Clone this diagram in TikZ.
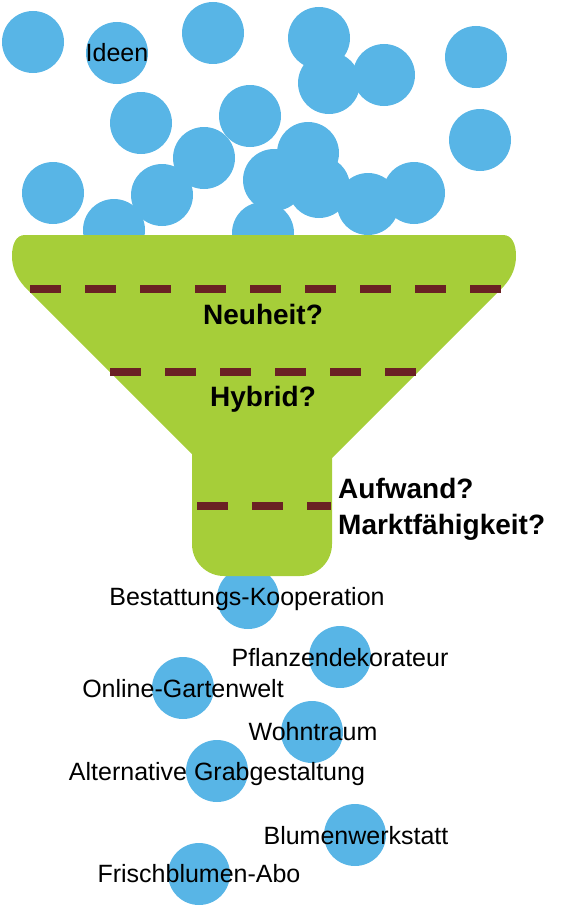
\documentclass[tikz,border=0pt]{standalone}
\usepackage{fontspec}
\setmainfont{Liberation Sans}
\definecolor{ideablue}{HTML}{58B5E6}
\definecolor{funnelgreen}{HTML}{A6CE39}
\definecolor{dashbrown}{HTML}{6A2124}
\begin{document}
\begin{tikzpicture}[x=1pt,y=-1pt,
  ball/.style={circle,fill=ideablue,minimum size=62pt,inner sep=0pt},
  lbl/.style={inner sep=0pt,text height=17.9pt,text depth=0pt,font=\fontsize{25}{30}\selectfont},
  question/.style={inner sep=0pt,text height=20pt,text depth=0pt,font=\fontsize{28}{33}\selectfont\bfseries},
  sieve/.style={draw=dashbrown,line width=8pt,dash pattern=on 31pt off 24pt}]
\useasboundingbox (0,0) rectangle (567,907);
% idea balls above the funnel
\node[ball] (b1) at (33,42) {};
\node[ball] (b2) at (117,53) {};
\node[ball] (b3) at (213,33) {};
\node[ball] (b4) at (319,38) {};
\node[ball] (b5) at (329,83) {};
\node[ball] (b6) at (384,75) {};
\node[ball] (b7) at (476,57) {};
\node[ball] (b8) at (480,140) {};
\node[ball] (b9) at (141,123) {};
\node[ball] (b10) at (250,116) {};
\node[ball] (b11) at (204,158) {};
\node[ball] (b12) at (308,153) {};
\node[ball] (b13) at (53,193) {};
\node[ball] (b14) at (162,195) {};
\node[ball] (b15) at (274,180) {};
\node[ball] (b16) at (319,187) {};
\node[ball] (b17) at (368,204) {};
\node[ball] (b18) at (414,193) {};
\node[ball] (b19) at (114,230) {};
\node[ball] (b20) at (263,233) {};
% result balls below
\node[ball] (r1) at (248,598) {};
\node[ball] (r2) at (340,657) {};
\node[ball] (r3) at (183,688) {};
\node[ball] (r4) at (312,732) {};
\node[ball] (r5) at (217,771) {};
\node[ball] (r6) at (355,835) {};
\node[ball] (r7) at (199,874) {};
% funnel
\fill[funnelgreen] (25,235) -- (503,235)
  .. controls (512,235) and (516,244) .. (516,256)
  .. controls (516,267) and (512,277) .. (504,286)
  -- (332,458) -- (332,544)
  .. controls (332,561.7) and (317.7,576) .. (300,576)
  -- (224,576)
  .. controls (206.3,576) and (192,561.7) .. (192,544)
  -- (192,454) -- (24,286)
  .. controls (16,277) and (12,267) .. (12,256)
  .. controls (12,244) and (16,235) .. (25,235) -- cycle;
% sieve lines
\coordinate (s1a) at (30,289); \coordinate (s1b) at (501,289);
\coordinate (s2a) at (110,372); \coordinate (s2b) at (417,372);
\coordinate (s3a) at (197,506); \coordinate (s3b) at (331,506);
\draw[sieve] (s1a) -- (s1b);
\draw[sieve] (s2a) -- (s2b);
\draw[sieve] (s3a) -- (s3b);
% texts
\node[lbl] (ideen) at (117,53) {Ideen};
\node[question] (neu) at (263,314) {Neuheit?};
\node[question] (hyb) at (263,396) {Hybrid?};
\node[question,anchor=west] (auf) at (338,488) {Aufwand?};
\node[question,anchor=west] (markt) at (338,524) {Marktfähigkeit?};
\node[lbl] (t1) at (247,597) {Bestattungs-Kooperation};
\node[lbl] (t2) at (340,658) {Pflanzendekorateur};
\node[lbl] (t3) at (183,689) {Online-Gartenwelt};
\node[lbl] (t4) at (313,732) {Wohntraum};
\node[lbl] (t5) at (217,772) {Alternative Grabgestaltung};
\node[lbl] (t6) at (356,836) {Blumenwerkstatt};
\node[lbl] (t7) at (199,874) {Frischblumen-Abo};
\end{tikzpicture}
\end{document}
